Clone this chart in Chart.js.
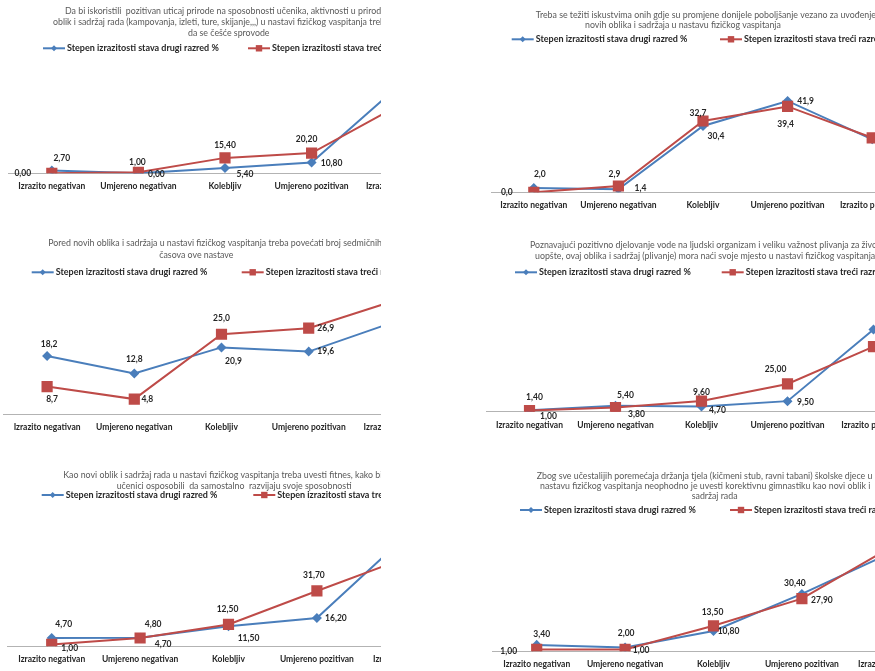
<!DOCTYPE html>
<html>
<head>
<meta charset="utf-8">
<script src="https://cdn.jsdelivr.net/npm/chart.js"></script>
<style>
    body { margin: 0; background: #fff; width: 875px; height: 671px; position: relative; overflow: hidden; }
    .panel { position: absolute; overflow: hidden; }
    .panel canvas { position: absolute; top: 0; }
</style>
</head>
<body>
<div class="panel" style="left:0;top:0;width:381px;height:208px"><canvas id="graf1" width="450" height="208" style="left:0"></canvas></div>
<div class="panel" style="left:483px;top:0;width:392px;height:223px"><canvas id="graf2" width="440" height="223" style="left:0"></canvas></div>
<div class="panel" style="left:0;top:230px;width:381px;height:218px"><canvas id="graf3" width="453" height="218" style="left:-5px"></canvas></div>
<div class="panel" style="left:478px;top:230px;width:397px;height:218px"><canvas id="graf4" width="447" height="218" style="left:0"></canvas></div>
<div class="panel" style="left:0;top:460px;width:381px;height:219px"><canvas id="graf5" width="459" height="219" style="left:-1px"></canvas></div>
<div class="panel" style="left:484px;top:460px;width:391px;height:219px"><canvas id="graf6" width="459" height="219" style="left:0"></canvas></div>

<script>
// Kategorije i serije
const kategorije = ['Izrazito negativan', 'Umjereno negativan', 'Kolebljiv', 'Umjereno pozitivan', 'Izrazito pozitivan'];
const serije = ['Stepen izrazitosti stava drugi razred %', 'Stepen izrazitosti stava treći razred %'];

// Graf 1 - priroda
const drugi1 = [2.70, 0.00, 5.40, 10.80, 87.0];
const treci1 = [0.00, 1.00, 15.40, 20.20, 67.5];
// Graf 2 - iskustva
const drugi2 = [2.0, 1.4, 30.4, 41.9, 24.3];
const treci2 = [0.0, 2.9, 32.7, 39.4, 25.0];
// Graf 3 - broj casova
const drugi3 = [18.2, 12.8, 20.9, 19.6, 29.0];
const treci3 = [8.7, 4.8, 25.0, 26.9, 35.6];
// Graf 4 - plivanje
const drugi4 = [1.40, 5.40, 4.70, 9.50, 74.0];
const treci4 = [1.00, 3.80, 9.60, 25.00, 58.5];
// Graf 5 - fitnes
const drugi5 = [4.70, 4.80, 11.50, 16.20, 63.0];
const treci5 = [1.00, 4.70, 12.50, 31.70, 50.5];
// Graf 6 - korektivna gimnastika
const drugi6 = [3.40, 2.00, 10.80, 30.40, 52.0];
const treci6 = [1.00, 1.00, 13.50, 27.90, 55.0];

const PLAVA = '#4A7EBB';
const CRVENA = '#BE4B48';
const FONT = 'Lato';

function marker(ctx, style, x, y, r) {
    ctx.beginPath();
    if (style === 'rect') {
        ctx.rect(x - r, y - r, 2 * r, 2 * r);
    } else {
        ctx.moveTo(x, y - r);
        ctx.lineTo(x + r, y);
        ctx.lineTo(x, y + r);
        ctx.lineTo(x - r, y);
        ctx.closePath();
    }
    ctx.fill();
}

// Naslov i legenda (kao u Excelu)
const naslovILegenda = {
    id: 'naslovILegenda',
    afterDraw(chart, args, o) {
        const ctx = chart.ctx;
        ctx.save();
        ctx.textBaseline = 'middle';
        ctx.textAlign = 'left';
        ctx.font = '8.8px ' + FONT;
        ctx.fillStyle = '#595959';
        o.naslov.forEach((red, i) => ctx.fillText(red, o.naslovX[i], o.naslovY[i]));

        ctx.font = 'bold 9px ' + FONT;
        chart.data.datasets.forEach((ds, i) => {
            const x = o.legendaX[i], y = o.legendaY;
            ctx.strokeStyle = ds.borderColor;
            ctx.lineWidth = 2;
            ctx.beginPath();
            ctx.moveTo(x, y);
            ctx.lineTo(x + 22, y);
            ctx.stroke();
            ctx.fillStyle = ds.borderColor;
            marker(ctx, ds.pointStyle, x + 11, y, ds.pointStyle === 'rect' ? 3.2 : 3);
            ctx.fillStyle = '#262626';
            ctx.fillText(ds.label, x + 24, y);
        });
        ctx.restore();
    }
};

// Vrijednosti uz tacke
const oznake = {
    id: 'oznake',
    afterDatasetsDraw(chart, args, o) {
        const ctx = chart.ctx;
        ctx.save();
        ctx.font = 'bold 8.5px ' + FONT;
        ctx.fillStyle = '#262626';
        ctx.textAlign = 'center';
        ctx.textBaseline = 'middle';
        chart.data.datasets.forEach((ds, i) => {
            const meta = chart.getDatasetMeta(i);
            o.pomak[i].forEach((p, j) => {
                const pt = meta.data[j];
                const txt = ds.data[j].toFixed(o.decimale).replace('.', ',');
                ctx.fillText(txt, pt.x + p[0], pt.y + p[1]);
            });
        });
        ctx.restore();
    }
};

function napraviGraf(id, drugi, treci, p) {
    const ctx = document.getElementById(id).getContext('2d');
    new Chart(ctx, {
        type: 'line',
        data: {
            labels: kategorije,
            datasets: [{
                label: serije[0],
                data: drugi,
                borderColor: PLAVA,
                backgroundColor: PLAVA,
                pointBackgroundColor: PLAVA,
                pointBorderColor: PLAVA,
                pointStyle: 'rectRot',
                pointRadius: 3.6,
                borderWidth: 2,
                tension: 0,
                order: 1
            }, {
                label: serije[1],
                data: treci,
                borderColor: CRVENA,
                backgroundColor: CRVENA,
                pointBackgroundColor: CRVENA,
                pointBorderColor: CRVENA,
                pointStyle: 'rect',
                pointRadius: 6.5,
                borderWidth: 2,
                tension: 0,
                order: 0
            }]
        },
        options: {
            responsive: false,
            devicePixelRatio: 1,
            animation: false,
            layout: {
                padding: { left: 6, right: 6, top: p.gore, bottom: p.dole }
            },
            scales: {
                x: {
                    offset: true,
                    grid: { display: false, drawTicks: false },
                    border: { display: true, color: '#b3b3b3', width: 1 },
                    ticks: {
                        color: '#262626',
                        font: { family: FONT, size: 8.5, weight: 'bold', lineHeight: 1.2 },
                        padding: 8,
                        maxRotation: 0,
                        minRotation: 0,
                        autoSkip: false
                    }
                },
                y: {
                    display: false,
                    min: 0,
                    max: p.max
                }
            },
            plugins: {
                legend: { display: false },
                tooltip: { enabled: false },
                naslovILegenda: p.tekst,
                oznake: { decimale: p.decimale, pomak: p.pomak }
            }
        },
        plugins: [naslovILegenda, oznake]
    });
}

napraviGraf('graf1', drugi1, treci1, {
    gore: 83.2, dole: 8.5, max: 90, decimale: 2,
    pomak: [[[10, -12], [18, 1], [20, 6], [20, 1]], [[-29, 0], [-1, -10], [0, -13], [-5, -14]]],
    tekst: {
        naslov: ['Da bi iskoristili  pozitivan uticaj prirode na sposobnosti učenika, aktivnosti u prirodi kao novi',
                 'oblik i sadržaj rada (kampovanja, izleti, ture, skijanje,,,) u nastavi fizičkog vaspitanja treba',
                 'da se češće sprovode'],
        naslovX: [65, 53, 188], naslovY: [11, 22.5, 33.5],
        legendaX: [43, 248], legendaY: 48.3
    }
});

napraviGraf('graf2', drugi2, treci2, {
    gore: 83.3, dole: 4.5, max: 50, decimale: 1,
    pomak: [[[6, -14], [22, -1], [13, 10], [18, 0]], [[-27, 0], [-4, -11.5], [-5, -8], [-2, 18]]],
    tekst: {
        naslov: ['Treba se težiti iskustvima onih gdje su promjene donijele poboljšanje vezano za uvođenje',
                 'novih oblika i sadržaja u nastavu fizičkog vaspitanja'],
        naslovX: [52.7, 102], naslovY: [15, 25],
        legendaX: [28.7, 237], legendaY: 39.3
    }
});

napraviGraf('graf3', drugi3, treci3, {
    gore: 56.1, dole: 7.3, max: 40, decimale: 1,
    pomak: [[[2, -12], [0, -14], [12, 14], [17, 0]], [[5, 13], [13, 0], [0, -16], [17, 0]]],
    tekst: {
        naslov: ['Pored novih oblika i sadržaja u nastavi fizičkog vaspitanja treba povećati broj sedmičnih',
                 'časova ove nastave'],
        naslovX: [53.3, 164.3], naslovY: [13.5, 25],
        legendaX: [36.7, 246.7], legendaY: 42.3
    }
});

napraviGraf('graf4', drugi4, treci4, {
    gore: 81.7, dole: 10.1, max: 90, decimale: 2,
    pomak: [[[5, -13], [10, -10], [16, 4], [18, 1]], [[19, 5.5], [21, 7], [0, -9], [-12, -15]]],
    tekst: {
        naslov: ['Poznavajući pozitivno djelovanje vode na ljudski organizam i veliku važnost plivanja za život',
                 'uopšte, ovaj oblika i sadržaj (plivanje) mora naći svoje mjesto u nastavi fizičkog vaspitanja'],
        naslovX: [52, 57], naslovY: [15, 26],
        legendaX: [37, 243.7], legendaY: 42.3
    }
});

napraviGraf('graf5', drugi5, treci5, {
    gore: 64.2, dole: 6.6, max: 70, decimale: 2,
    pomak: [[[12, -14], [13, -14], [20, 12], [19, 0]], [[18, 4], [23, 6.5], [-1, -15], [-3, -16]]],
    tekst: {
        naslov: ['Kao novi oblik i sadržaj rada u nastavi fizičkog vaspitanja treba uvesti fitnes, kako bi se',
                 'učenici osposobili  da samostalno  razvijaju svoje sposobnosti'],
        naslovX: [64.3, 117.7], naslovY: [15, 26],
        legendaX: [42.7, 254.3], legendaY: 35
    }
});

napraviGraf('graf6', drugi6, treci6, {
    gore: 78.1, dole: 1.5, max: 60, decimale: 2,
    pomak: [[[5, -11], [1, -14], [15, 0.5], [-7, -10.6]], [[-28, 2], [16, 1], [-1, -14], [20, 2]]],
    tekst: {
        naslov: ['Zbog sve učestalijih poremećaja držanja tjela (kičmeni stub, ravni tabani) školske djece u',
                 'nastavu fizičkog vaspitanja neophodno je uvesti korektivnu gimnastiku kao novi oblik i',
                 'sadržaj rada'],
        naslovX: [52.7, 56, 207.7], naslovY: [16.5, 26.5, 36],
        legendaX: [36, 246], legendaY: 50
    }
});
</script>
</body>
</html>
